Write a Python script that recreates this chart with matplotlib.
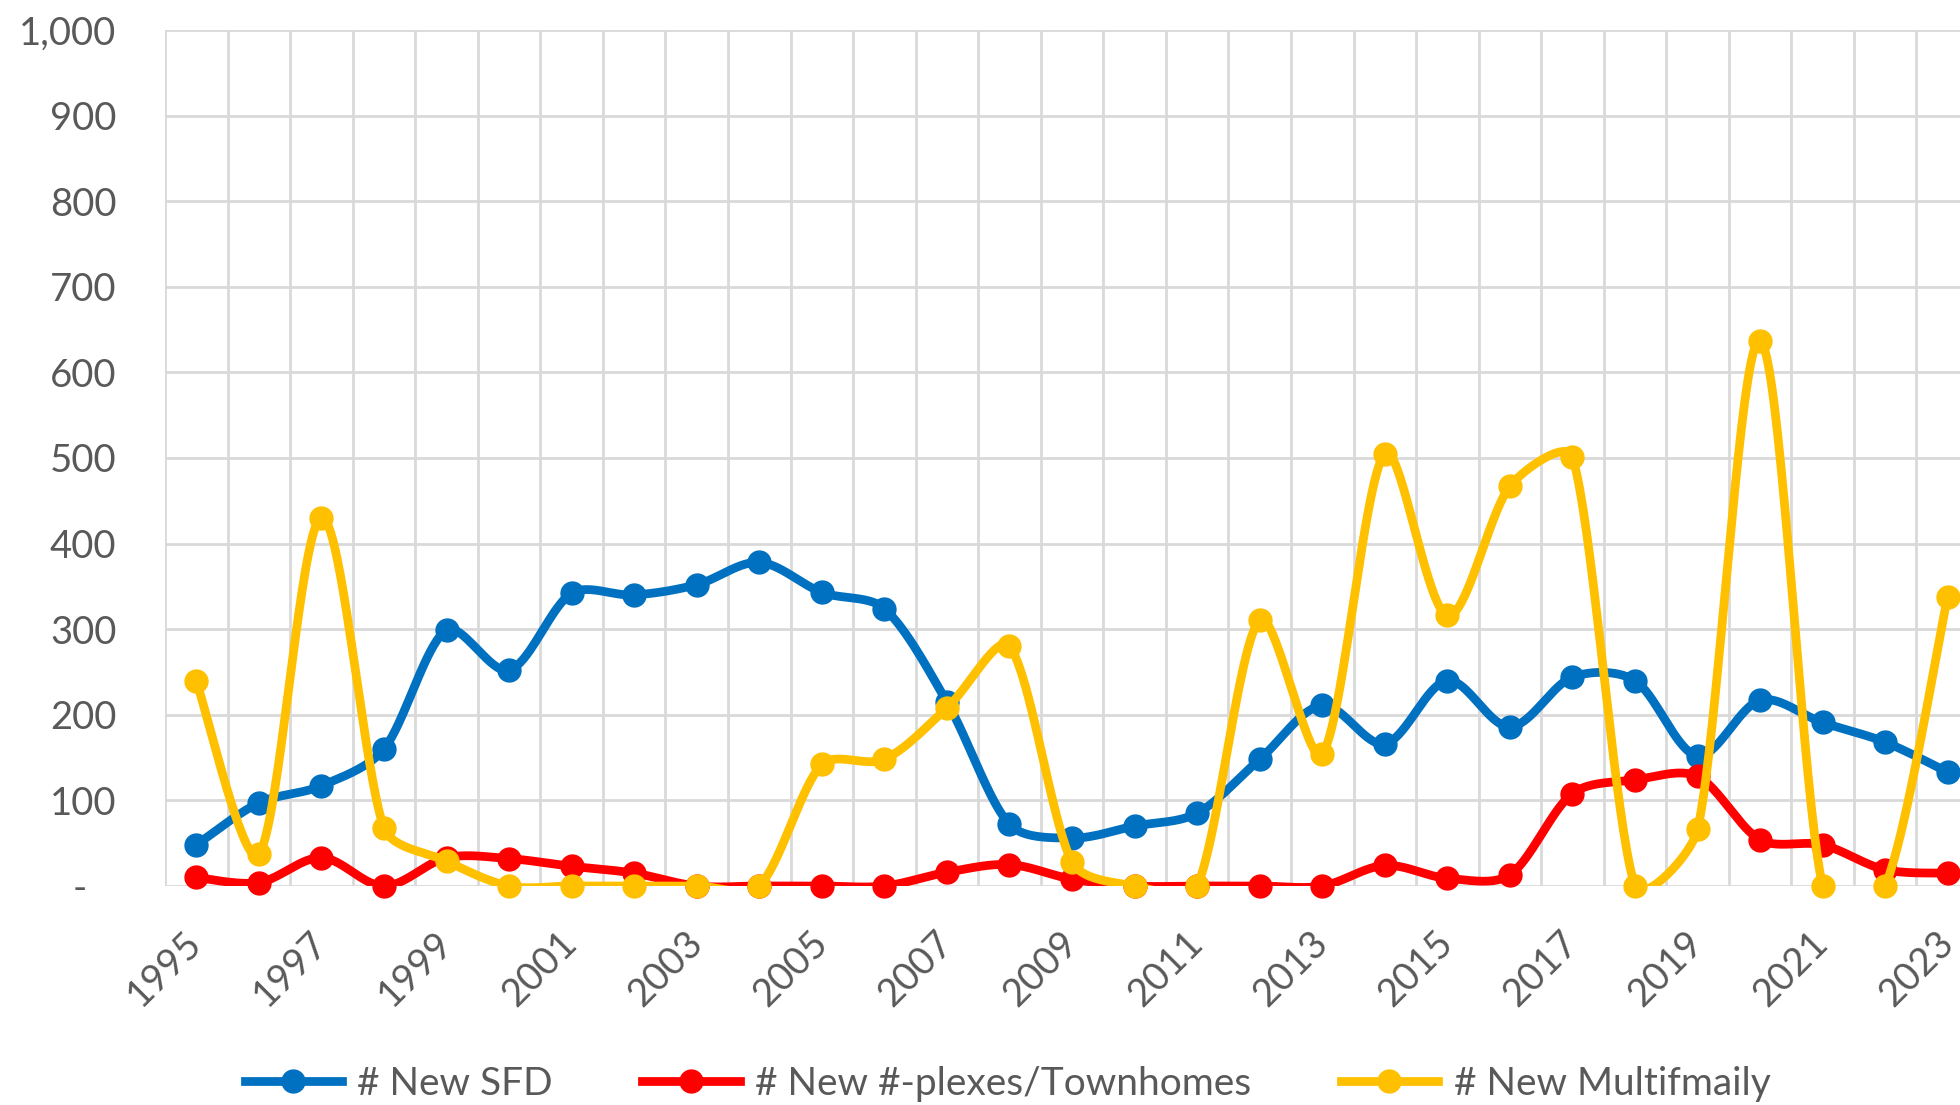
import matplotlib
matplotlib.use("Agg")
import matplotlib.pyplot as plt
from matplotlib.lines import Line2D
from matplotlib.ticker import FuncFormatter, MultipleLocator
import numpy as np

# data
years = list(range(1995, 2024))
new_sfd = [48, 97, 117, 160, 299, 252, 342, 340, 352, 378, 343, 324, 215, 72,
           56, 70, 85, 148, 211, 166, 240, 186, 244, 240, 152, 217, 191, 168, 133]
new_plexes = [10, 4, 33, 0, 33, 32, 23, 15, 0, 0, 0, 0, 16, 25,
              8, 0, 0, 0, 0, 24, 9, 13, 108, 124, 128, 54, 48, 19, 15]
new_multifamily = [239, 37, 430, 68, 29, 0, 0, 0, 0, 0, 142, 148, 208, 280,
                   28, 0, 0, 311, 154, 505, 316, 467, 501, 0, 66, 637, 0, 0, 338]

series_names = ["# New SFD", "# New #-plexes/Townhomes", "# New Multifmaily"]
series_colors = ["#0070C0", "#FF0000", "#FFC000"]

text_color = "#595959"
grid_color = "#D9D9D9"

plt.rcParams["font.family"] = ["Lato", "DejaVu Sans"]


def smooth(ax, x, y, steps=40):
    # excel style smoothed line: cubic bezier, tangents scaled by
    # the on-screen segment lengths so short segments don't overshoot
    data = np.column_stack([np.asarray(x, float), np.asarray(y, float)])
    pts = ax.transData.transform(data)
    n = len(pts)
    f = 1.0 / 6.0
    out = []
    for i in range(n - 1):
        p0 = pts[i - 1] if i > 0 else pts[i]
        p1 = pts[i]
        p2 = pts[i + 1]
        p3 = pts[i + 2] if i + 2 < n else pts[i + 1]
        d01 = np.hypot(*(p1 - p0))
        d12 = np.hypot(*(p2 - p1))
        d23 = np.hypot(*(p3 - p2))
        s1 = 2 * d12 / (d01 + d12) if d01 > 0 else 1.0
        s2 = 2 * d12 / (d12 + d23) if d23 > 0 else 1.0
        c1 = p1 + (p2 - p0) * f * min(s1, 1.0)
        c2 = p2 - (p3 - p1) * f * min(s2, 1.0)
        t = np.linspace(0, 1, steps)[:, None]
        seg = ((1 - t) ** 3) * p1 + 3 * ((1 - t) ** 2) * t * c1 + 3 * (1 - t) * (t ** 2) * c2 + (t ** 3) * p2
        if i > 0:
            seg = seg[1:]
        out.append(seg)
    out = ax.transData.inverted().transform(np.vstack(out))
    return out[:, 0], out[:, 1]


fig = plt.figure(figsize=(19.6, 11.05), dpi=100)
ax = fig.add_axes([0.0842, 0.1982, 0.9255, 0.7747])
ax.set_xlim(1994.5, 2023.5)
ax.set_ylim(0, 1000)

lw = 6.3
ms = 16.5
for vals, color in zip([new_sfd, new_plexes, new_multifamily], series_colors):
    sx, sy = smooth(ax, years, vals)
    ax.plot(sx, sy, color=color, linewidth=lw, solid_capstyle="round", zorder=3)
    ax.plot(years, vals, "o", color=color, markersize=ms, clip_on=False, zorder=3)

# gridlines between categories, labels on every other year
ax.set_xticks(np.arange(1994.5, 2024, 1.0), minor=True)
ax.set_xticks(years[::2])
ax.set_xticklabels([str(y) for y in years[::2]], rotation=45, ha="right",
                   va="center", rotation_mode="anchor")
ax.yaxis.set_major_locator(MultipleLocator(100))
ax.yaxis.set_major_formatter(FuncFormatter(lambda v, p: "-   " if v == 0 else f"{int(v):,}"))

ax.grid(True, which="minor", axis="x", color=grid_color, linewidth=2.0)
ax.grid(True, which="major", axis="y", color=grid_color, linewidth=2.0)
ax.grid(False, which="major", axis="x")
ax.set_axisbelow(True)

ax.tick_params(axis="x", which="both", length=0, pad=37, labelsize=27.5, labelcolor=text_color)
ax.tick_params(axis="y", which="both", length=0, pad=35, labelsize=27.5, labelcolor=text_color)
for s in ax.spines.values():
    s.set_visible(False)

handles = [Line2D([0], [0], color=c, linewidth=lw, marker="o", markersize=ms)
           for c in series_colors]
leg = fig.legend(handles, series_names, loc="center", bbox_to_anchor=(0.514, 0.019),
                 ncol=3, frameon=False, fontsize=28, handlelength=2.5,
                 handletextpad=0.4, columnspacing=2.3)
for t in leg.get_texts():
    t.set_color(text_color)

fig.savefig("out.png", dpi=100)
